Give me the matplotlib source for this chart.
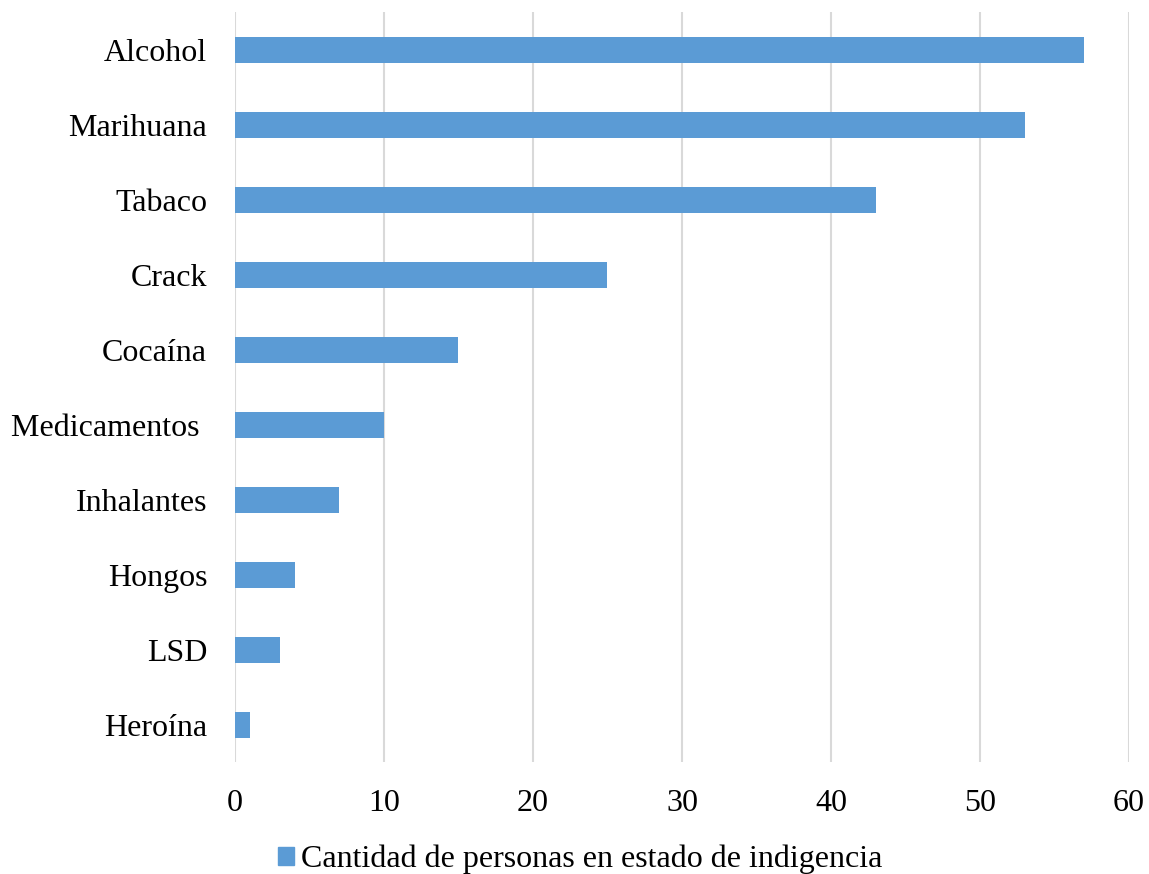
import matplotlib.pyplot as plt
from matplotlib.patches import Patch

sustancias = ["Alcohol", "Marihuana", "Tabaco", "Crack", "Cocaína",
              "Medicamentos ", "Inhalantes", "Hongos", "LSD", "Heroína"]
personas = [57, 53, 43, 25, 15, 10, 7, 4, 3, 1]
ticks_x = [0, 10, 20, 30, 40, 50, 60]
serie = "Cantidad de personas en estado de indigencia"

plt.rcParams['font.family'] = ['Liberation Serif', 'DejaVu Serif']

fig = plt.figure(figsize=(11.49, 8.74), dpi=100)
ax = fig.add_axes([0.2045, 0.1276, 0.7781, 0.8581])

pos = list(range(len(sustancias)))
ax.barh(pos, personas, height=0.35, color="#5b9bd5", zorder=3)

ax.set_ylim(len(sustancias) - 0.5, -0.5)
ax.set_xlim(0, 60)
ax.set_yticks(pos)
ax.set_yticklabels(sustancias, fontsize=23)
ax.set_xticks(ticks_x)
ax.set_xticklabels([str(t) for t in ticks_x], fontsize=23)

ax.grid(axis="x", color="#d9d9d9", linewidth=1.5, zorder=0)
for s in ax.spines.values():
    s.set_visible(False)
ax.tick_params(axis="both", length=0)
ax.tick_params(axis="y", pad=20)
ax.tick_params(axis="x", pad=19)

fig.legend(handles=[Patch(color="#5b9bd5", label=serie)],
           loc="lower center", bbox_to_anchor=(0.505, -0.033), frameon=False,
           fontsize=23, handlelength=0.48, handleheight=0.48, handletextpad=0.22)

fig.savefig("out.png", dpi=100)
